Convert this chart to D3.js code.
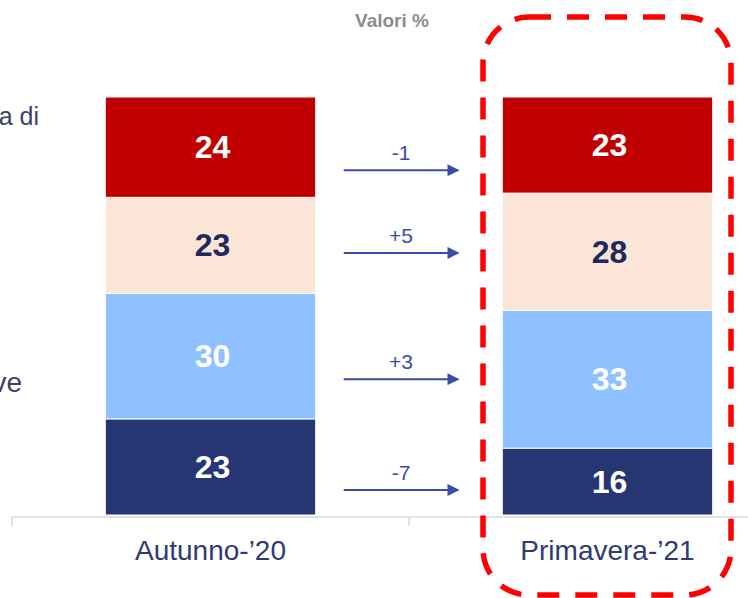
<!DOCTYPE html>
<html>
<head>
<meta charset="utf-8">
<script src="https://cdn.jsdelivr.net/npm/d3@7"></script>
<style>
  body { margin: 0; background: #fff; }
</style>
</head>
<body>
<div id="chart"></div>
<script>

const categories = ['Autunno-\u201920', 'Primavera-\u201921'];

// stacked bottom to top
const segmentColors = ['#253672', '#8FC0FF', '#FBE5D6', '#C00000'];
const labelColors = ['#ffffff', '#ffffff', '#1F2A5A', '#ffffff'];
const autunnoValues = [23, 30, 23, 24];
const primaveraValues = [16, 33, 28, 23];

// change labels between the two bars, bottom to top
const changeLabels = ['-7', '+3', '+5', '-1'];
const arrowLevels = [6, 32.5, 62.7, 82.5];

const sideLabels = ['a di', 've'];
const sideLevels = [93.3, 29.4];

const width = 748;
const height = 598;

let svg = d3.select('#chart').append('svg')
  .attr('width', width)
  .attr('height', height)
  .attr('font-family', 'Liberation Sans, Arial, sans-serif');

let x = d3.scaleBand()
  .domain(categories)
  .range([12, 806])
  .paddingInner(0.47)
  .paddingOuter(0.235);

let y = d3.scaleLinear()
  .domain([0, 100])
  .range([515, 97]);

// Title
svg.append('text')
  .text('Valori %')
  .attr('x', 392)
  .attr('y', 27)
  .attr('text-anchor', 'middle')
  .attr('font-size', 19)
  .attr('font-weight', 'bold')
  .attr('fill', '#8C8C8C');

// Cut-off labels on the left
for (let i = 0; i < sideLabels.length; i++) {
  svg.append('text')
    .text(sideLabels[i])
    .attr('x', i === 0 ? 39 : 22)
    .attr('y', y(sideLevels[i]))
    .attr('text-anchor', 'end')
    .attr('font-size', i === 0 ? 25 : 28)
    .attr('fill', '#3B4266');
}

// Stacked bars
let allValues = [autunnoValues, primaveraValues];
for (let c = 0; c < categories.length; c++) {
  let base = 0;
  let vals = allValues[c];
  for (let j = 0; j < vals.length; j++) {
    let y0 = y(base);
    let y1 = y(base + vals[j]);
    svg.append('rect')
      .attr('x', x(categories[c]))
      .attr('y', y1)
      .attr('width', x.bandwidth())
      .attr('height', y0 - y1)
      .attr('fill', segmentColors[j])
      .attr('stroke', '#fff')
      .attr('stroke-width', 1);

    svg.append('text')
      .text(vals[j])
      .attr('x', x(categories[c]) + x.bandwidth() / 2 + 2)
      .attr('y', (y0 + y1) / 2 + 11)
      .attr('text-anchor', 'middle')
      .attr('font-size', 32)
      .attr('font-weight', 'bold')
      .attr('fill', labelColors[j]);
    base += vals[j];
  }
}

// Axis line and ticks
let axisY = 517;
svg.append('line')
  .attr('x1', 12)
  .attr('x2', width)
  .attr('y1', axisY)
  .attr('y2', axisY)
  .attr('stroke', '#D9D9D9')
  .attr('stroke-width', 1.5);

let tickXs = [12, 12 + x.step(), 12 + 2 * x.step()];
for (let t of tickXs) {
  svg.append('line')
    .attr('x1', t)
    .attr('x2', t)
    .attr('y1', axisY)
    .attr('y2', axisY + 9)
    .attr('stroke', '#D9D9D9')
    .attr('stroke-width', 1.5);
}

// Category labels
for (let c = 0; c < categories.length; c++) {
  svg.append('text')
    .text(categories[c])
    .attr('x', x(categories[c]) + x.bandwidth() / 2)
    .attr('y', 560)
    .attr('text-anchor', 'middle')
    .attr('font-size', 28)
    .attr('fill', '#2E3B70');
}

// Arrows with change labels
let arrowColor = '#3A4DA6';
svg.append('defs').append('marker')
  .attr('id', 'head')
  .attr('viewBox', '0 0 10 10')
  .attr('refX', 9)
  .attr('refY', 5)
  .attr('markerWidth', 12)
  .attr('markerHeight', 12)
  .attr('markerUnits', 'userSpaceOnUse')
  .attr('orient', 'auto')
  .append('path')
  .attr('d', 'M0,0 L10,5 L0,10 Z')
  .attr('fill', arrowColor);

let arrowStart = x(categories[0]) + x.bandwidth() + 28;
let arrowEnd = x(categories[1]) - 44;
for (let i = 0; i < changeLabels.length; i++) {
  let ay = y(arrowLevels[i]);
  svg.append('line')
    .attr('x1', arrowStart)
    .attr('x2', arrowEnd)
    .attr('y1', ay)
    .attr('y2', ay)
    .attr('stroke', arrowColor)
    .attr('stroke-width', 2)
    .attr('marker-end', 'url(#head)');

  svg.append('text')
    .text(changeLabels[i])
    .attr('x', (arrowStart + arrowEnd) / 2)
    .attr('y', ay - 10)
    .attr('text-anchor', 'middle')
    .attr('font-size', 21)
    .attr('fill', arrowColor);
}

// Dashed highlight around the second bar
svg.append('rect')
  .attr('x', 483)
  .attr('y', 17)
  .attr('width', 248)
  .attr('height', 578)
  .attr('rx', 46)
  .attr('ry', 46)
  .attr('fill', 'none')
  .attr('stroke', '#FF0000')
  .attr('stroke-width', 5.5)
  .attr('stroke-dasharray', '22,16');

</script>
</body>
</html>
